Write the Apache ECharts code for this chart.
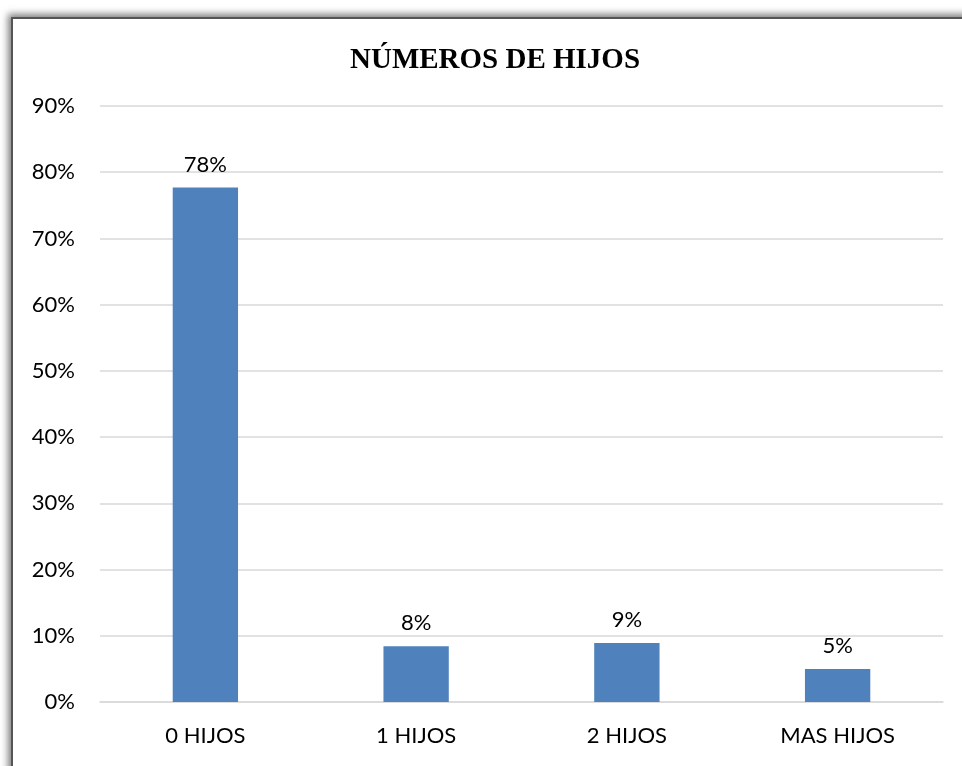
<!DOCTYPE html>
<html>
<head>
<meta charset="utf-8">
<script src="https://cdn.jsdelivr.net/npm/echarts@6/dist/echarts.min.js"></script>
<style>
  html, body { margin: 0; padding: 0; background: #fff; overflow: hidden; }
  #frame {
    position: absolute; left: 11px; top: 17px; width: 1000px; height: 800px;
    border: 2px solid #555; box-shadow: -3px -3px 7px rgba(0,0,0,0.5);
    background: #fff;
  }
  #chart { position: absolute; left: 0; top: 0; width: 962px; height: 766px; }
</style>
</head>
<body>
<div id="frame"></div>
<div id="chart"></div>
<script>
  const categories = ["0 HIJOS", "1 HIJOS", "2 HIJOS", "MAS HIJOS"];
  const shares = [0.777, 0.084, 0.089, 0.05];
  const yTicks = [0, 0.1, 0.2, 0.3, 0.4, 0.5, 0.6, 0.7, 0.8, 0.9];

  const el = document.getElementById("chart");
  const chart = echarts.init(el, null, {renderer: "canvas"});
  const font = "Lato, 'Open Sans', sans-serif";
  chart.setOption({
    animation: false,
    backgroundColor: "transparent",
    title: {
      text: "NÚMEROS DE HIJOS",
      left: 345, top: 41,
      textStyle: {fontFamily: "'Liberation Serif', 'Times New Roman', serif", fontWeight: "bold", fontSize: 29, color: "#000"}
    },
    grid: {left: 100, right: 19, top: 106, bottom: 64, containLabel: false},
    xAxis: {
      type: "category",
      data: categories,
      axisLine: {show: true, lineStyle: {color: "#d9d9d9", width: 1.5}},
      axisTick: {show: false},
      axisLabel: {color: "#000", fontFamily: font, fontSize: 22, margin: 23}
    },
    yAxis: {
      type: "value",
      min: yTicks[0], max: yTicks[yTicks.length - 1], interval: 0.1,
      axisLine: {show: false},
      axisTick: {show: false},
      splitLine: {lineStyle: {color: "#d9d9d9", width: 1.5}},
      axisLabel: {
        color: "#000", fontFamily: font, fontSize: 22, margin: 25,
        formatter: v => Math.round(v * 100) + "%"
      }
    },
    series: [{
      type: "bar",
      data: shares,
      barWidth: "31%",
      itemStyle: {color: "#4f81bd"},
      label: {
        show: true, position: "top", distance: 12,
        color: "#000", fontFamily: font, fontSize: 22,
        formatter: p => Math.round(p.value * 100) + "%"
      }
    }]
  });
</script>
</body>
</html>
